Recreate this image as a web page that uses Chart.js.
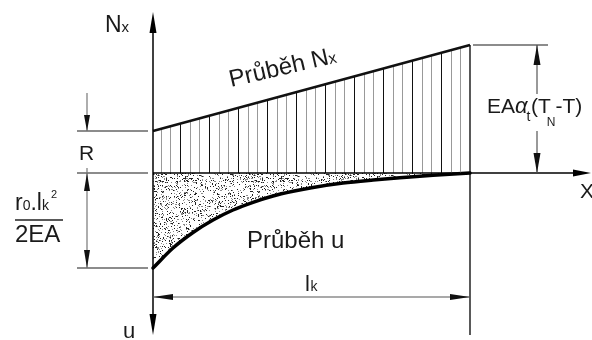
<!DOCTYPE html>
<html>
<head>
<meta charset="utf-8">
<script src="https://cdn.jsdelivr.net/npm/chart.js@4/dist/chart.umd.min.js"></script>
<style>
html, body { margin: 0; padding: 0; background: #fff; }
#wrap { width: 592px; height: 340px; position: relative; }
</style>
</head>
<body>
<div id="wrap"><canvas id="myChart"></canvas></div>
<script>
// beam of length lk, x measured from the left support
var lk = 317;

// normal force Nx: R at the support, R + EA.at(TN-T) at x = lk
var nxPos = [0, 317];
var nxVal = [42, 128];

// displacement u (drawn downwards), r0.lk^2/2EA at the support, 0 at lk
var uPos = [0, 20, 40, 60, 80, 100, 120, 140, 160, 190, 220, 250, 280, 317];
var uVal = [-95, -75, -59.5, -47, -37, -29.3, -23, -18.3, -14.4, -10, -7, -4.5, -2.2, 0];

var FONT = '"Liberation Sans", Arial, sans-serif';

function toPoints(xs, ys){
	var pts = [];
	for(var i=0; i<xs.length; i++)
		pts.push({x: xs[i], y: ys[i]});
	return pts;
}

// vertical hatching, one dark line then two light ones
function hatchPattern(){
	var c = document.createElement('canvas');
	c.width = 29; c.height = 4;
	var g = c.getContext('2d');
	g.fillStyle = '#111';
	g.fillRect(6, 0, 1, 4);
	g.fillStyle = '#999';
	g.fillRect(16, 0, 1, 4);
	g.fillRect(25, 0, 1, 4);
	return g.createPattern(c, 'repeat');
}

// sand-like stipple for the u area (fixed seed so it is always the same)
function stipplePattern(){
	var c = document.createElement('canvas');
	c.width = 96; c.height = 96;
	var g = c.getContext('2d');
	var seed = 12345;
	function next(){ seed = (seed * 16807) % 2147483647; return seed / 2147483647; }
	for(var i=0; i<1900; i++){
		var x = Math.floor(next()*96), y = Math.floor(next()*96);
		g.fillStyle = next() < 0.5 ? '#222' : '#8a8a8a';
		g.fillRect(x, y, 1, 1);
	}
	return g.createPattern(c, 'repeat');
}

function arrow(ctx, x, y, dx, dy, len, w){
	ctx.beginPath();
	ctx.moveTo(x, y);
	ctx.lineTo(x - dx*len - dy*w, y - dy*len + dx*w);
	ctx.lineTo(x - dx*len + dy*w, y - dy*len - dx*w);
	ctx.closePath();
	ctx.fill();
}

var drawingPlugin = {
	id: 'drawing',
	afterDatasetsDraw: function(chart){
		var ctx = chart.ctx;
		var sx = chart.scales.x, sy = chart.scales.y;
		function px(v){ return sx.getPixelForValue(v); }
		function py(v){ return sy.getPixelForValue(v); }
		function line(x1, y1, x2, y2, color, w){
			ctx.strokeStyle = color; ctx.lineWidth = w;
			ctx.beginPath();
			ctx.moveTo(px(x1), py(y1));
			ctx.lineTo(px(x2), py(y2));
			ctx.stroke();
		}
		function txt(s, x, y, size, extra){
			ctx.font = (extra || '') + size + 'px ' + FONT;
			ctx.fillText(s, px(x), py(y));
			return ctx.measureText(s).width;
		}

		ctx.save();
		ctx.fillStyle = '#000';
		ctx.textBaseline = 'alphabetic';
		ctx.textAlign = 'left';

		// axes
		line(0, 148, 0, -150, '#000', 1.5);
		arrow(ctx, px(0), py(161), 0, -1, 21, 3.5);
		arrow(ctx, px(0), py(-162), 0, 1, 21, 3.5);
		line(0, 0, 425, 0, '#000', 1.5);
		arrow(ctx, px(438), py(0), 1, 0, 18, 3.5);

		// right end of the beam
		line(lk, nxVal[1], lk, -162, '#000', 1.3);

		// extension lines
		line(-76, nxVal[0], -5, nxVal[0], '#666', 1.5);
		line(-76, 0, -5, 0, '#666', 1.5);
		line(-76, uVal[0], -5, uVal[0], '#666', 1.5);
		line(lk + 3, nxVal[1], 395, nxVal[1], '#666', 1.5);

		// dimension R
		ctx.fillStyle = '#111';
		line(-66, 80, -66, nxVal[0], '#777', 1.2);
		arrow(ctx, px(-66), py(nxVal[0]), 0, 1, 16, 3);
		// dimension r0.lk^2/2EA
		line(-66, 5, -66, uVal[0], '#777', 1.2);
		arrow(ctx, px(-66), py(0), 0, -1, 18, 3);
		arrow(ctx, px(-66), py(uVal[0]), 0, 1, 18, 3);
		// dimension lk
		line(0, -124, lk, -124, '#555', 1.2);
		arrow(ctx, px(0), py(-124), -1, 0, 20, 3);
		arrow(ctx, px(lk), py(-124), 1, 0, 20, 3);
		// dimension EA.at(TN-T)
		line(384, nxVal[1], 384, 0, '#555', 1.2);
		arrow(ctx, px(384), py(nxVal[1]), 0, -1, 20, 3.5);
		arrow(ctx, px(384), py(0), 0, 1, 20, 3.5);

		// labels
		ctx.fillStyle = '#fff';
		ctx.fillRect(px(332), py(79), px(438) - px(332), py(42) - py(79));
		ctx.fillStyle = '#1a1a1a';

		var w = txt('N', -48, 141, 23);
		txt('x', -48 + w, 141, 15);

		txt('R', -74, 13, 21);
		txt('X', 427, -25, 21);
		txt('Průběh u', 94, -75, 24);
		w = txt('l', 152, -118, 22);
		txt('k', 152 + w + 0.5, -118, 14);
		txt('u', -30, -165, 22);

		// r0.lk^2 / 2EA
		var x0 = -138;
		w = txt('r', x0, -37, 23); x0 += w;
		w = txt('0', x0, -37, 14); x0 += w;
		w = txt('.', x0, -37, 23); x0 += w;
		w = txt('l', x0, -37, 23); x0 += w;
		w = txt('k', x0, -37, 14); x0 += w + 2;
		txt('2', x0, -25, 11);
		line(-138, -47, -90, -47, '#222', 1.5);
		txt('2EA', -138, -69, 24);

		// EA.at(TN-T)
		x0 = 334;
		x0 += txt('EA', x0, 60, 21);
		x0 += txt('α', x0, 60, 22, 'italic ') - 1;
		x0 += txt('t', x0, 52, 14) + 0.5;
		x0 += txt('(', x0, 60, 21);
		var tw = txt('T', x0, 60, 21);
		x0 += tw - 4;
		x0 += txt('N', x0, 47, 12);
		x0 += txt('-', x0, 60, 21);
		x0 += txt('T', x0, 60, 21);
		txt(')', x0, 60, 21);

		// Průběh Nx along the Nx line
		ctx.save();
		ctx.translate(px(78), py(86));
		ctx.rotate(-13 * Math.PI / 180);
		ctx.font = '24px ' + FONT;
		ctx.fillText('Průběh N', 0, 0);
		w = ctx.measureText('Průběh N').width;
		ctx.font = '16px ' + FONT;
		ctx.fillText('x', w, 0);
		ctx.restore();

		ctx.restore();
	}
};

var ctx = document.getElementById('myChart').getContext('2d');
var myChart = new Chart(ctx, {
	type: 'line',
	data: {
		datasets: [{
			data: toPoints(nxPos, nxVal),
			borderColor: '#111',
			borderWidth: 2.5,
			pointRadius: 0,
			fill: 'origin',
			backgroundColor: hatchPattern()
		}, {
			data: toPoints(uPos, uVal),
			borderColor: '#000',
			borderWidth: 3.5,
			borderCapStyle: 'round',
			pointRadius: 0,
			cubicInterpolationMode: 'monotone',
			fill: 'origin',
			backgroundColor: stipplePattern()
		}]
	},
	options: {
		animation: false,
		responsive: true,
		maintainAspectRatio: false,
		layout: { padding: 0 },
		plugins: { legend: { display: false }, tooltip: { enabled: false } },
		scales: {
			x: { type: 'linear', display: false, min: -153, max: 439 },
			y: { type: 'linear', display: false, min: -167, max: 173 }
		}
	},
	plugins: [drawingPlugin]
});
</script>
</body>
</html>
